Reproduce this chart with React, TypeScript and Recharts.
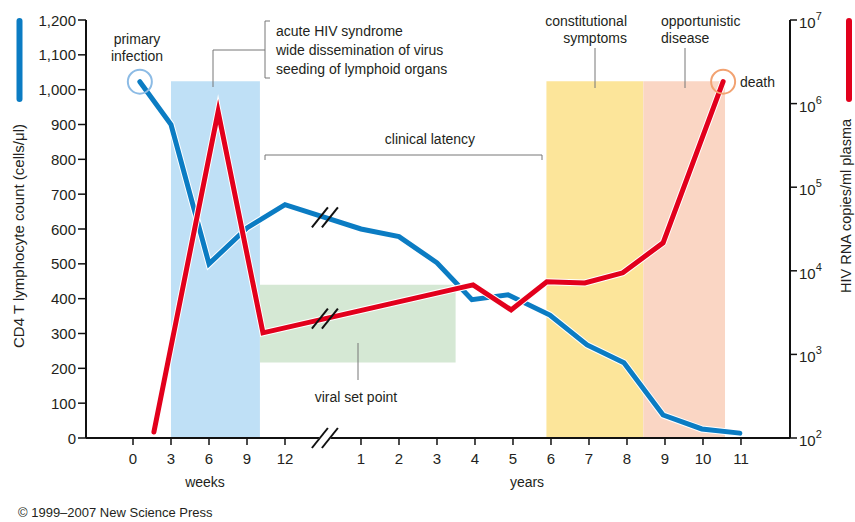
import React from 'react';
import {
  ComposedChart,
  Line,
  XAxis,
  YAxis,
  ReferenceArea,
  ReferenceDot,
} from 'recharts';

// x is a position on the drawn axis: 0..4 = 0,3,6,9,12 weeks, 5 = axis break, 6..16 = years 1..11
const tickPositions = [0, 1, 2, 3, 4, 6, 7, 8, 9, 10, 11, 12, 13, 14, 15, 16];
const tickLabels = ['0', '3', '6', '9', '12', '1', '2', '3', '4', '5', '6', '7', '8', '9', '10', '11'];
const breakPos = 5.05;

const cd4Pos = [0.18, 1, 2, 3, 4, 6, 7, 8, 8.92, 9.87, 10.97, 11.95, 12.92, 13.95, 14.97, 15.97];
const cd4Count = [1023, 900, 500, 603, 670, 600, 578, 503, 397, 411, 353, 267, 216, 66, 26, 14];

const rnaPos = [0.55, 2.24, 3.42, 8.95, 9.95, 10.89, 11.89, 12.89, 13.95, 15.53];
const rnaCopies = [118, 800000, 1810, 6800, 3410, 7380, 7150, 9460, 21600, 1830000];

const cd4Ticks = [0, 100, 200, 300, 400, 500, 600, 700, 800, 900, 1000, 1100, 1200];
const rnaTicks = [100, 1000, 10000, 100000, 1000000, 10000000];

const phaseStart = [1, 3.34, 10.88, 13.43];
const phaseEnd = [3.34, 8.49, 13.43, 15.58];
const phaseLow = [0, 217, 0, 0];
const phaseHigh = [1024, 440, 1024, 1024];
const phaseColors = ['#bfe0f6', '#d5e8d4', '#fce59a', '#fad6c4'];

const BLUE = '#0b7cc3';
const RED = '#e2001c';
const INK = '#231f20';
const FONT = '"Liberation Sans", Arial, sans-serif';

const cd4Data = cd4Pos.map((p, i) => ({ pos: p, count: cd4Count[i] }));
const rnaData = rnaPos.map((p, i) => ({ pos: p, copies: rnaCopies[i] }));

// where the series cross the axis break, for placing the // marks
const lerpAt = (xs: number[], ys: number[], x: number, log: boolean) => {
  for (let i = 0; i < xs.length - 1; i++) {
    if (x >= xs[i] && x <= xs[i + 1]) {
      const t = (x - xs[i]) / (xs[i + 1] - xs[i]);
      if (log) return Math.pow(10, Math.log10(ys[i]) + t * (Math.log10(ys[i + 1]) - Math.log10(ys[i])));
      return ys[i] + t * (ys[i + 1] - ys[i]);
    }
  }
  return ys[0];
};
const cd4AtBreak = lerpAt(cd4Pos, cd4Count, breakPos, false);
const rnaAtBreak = lerpAt(rnaPos, rnaCopies, breakPos, true);

const BreakMark = (props: any) => {
  const { cx, cy, gap } = props;
  return (
    <g>
      {gap && (
        <polygon
          points={`${cx - 11},${cy + 9} ${cx + 1},${cy + 9} ${cx + 11},${cy - 9} ${cx - 1},${cy - 9}`}
          fill="#fff"
        />
      )}
      <line x1={cx - 13} y1={cy + 10} x2={cx + 3} y2={cy - 10} stroke="#111" strokeWidth={2} />
      <line x1={cx - 3} y1={cy + 10} x2={cx + 13} y2={cy - 10} stroke="#111" strokeWidth={2} />
    </g>
  );
};

const XTick = (props: any) => {
  const { x, y, payload } = props;
  const idx = tickPositions.indexOf(payload.value);
  return (
    <text x={x} y={y} dy={17} textAnchor="middle" fill={INK} fontSize={15} fontFamily={FONT}>
      {tickLabels[idx]}
    </text>
  );
};

const LeftTick = (props: any) => {
  const { x, y, payload } = props;
  return (
    <text x={x} y={y} dy={5.5} textAnchor="end" fill={INK} fontSize={15} fontFamily={FONT}>
      {Number(payload.value).toLocaleString('en-US')}
    </text>
  );
};

const PowerTick = (props: any) => {
  const { x, y, payload } = props;
  const exp = Math.round(Math.log10(payload.value));
  return (
    <text x={x} y={y + 8} textAnchor="start" fill={INK} fontSize={15} fontFamily={FONT}>
      10
      <tspan dy={-8} fontSize={11}>{exp}</tspan>
    </text>
  );
};

const Annotations = () => {
  const t = { fill: INK, fontSize: 14, fontFamily: FONT };
  const guide = { stroke: '#777', strokeWidth: 1, fill: 'none' };
  return (
    <svg
      width={855}
      height={522}
      style={{ position: 'absolute', left: 0, top: 0, pointerEvents: 'none' }}
    >
      {/* series keys */}
      <rect x={16.5} y={18} width={6} height={84} rx={3} fill={BLUE} />
      <rect x={846} y={18} width={6} height={84} rx={3} fill={RED} />
      <text transform="translate(24,236) rotate(-90)" textAnchor="middle" {...t} fontSize={15}>
        CD4 T lymphocyte count (cells/μl)
      </text>
      <text transform="translate(851,206) rotate(-90)" textAnchor="middle" {...t} fontSize={14.5}>
        HIV RNA copies/ml plasma
      </text>

      <text x={137} y={44} textAnchor="middle" {...t}>primary</text>
      <text x={137} y={61} textAnchor="middle" {...t}>infection</text>

      <path d="M270 21 H265 V78 H270" {...guide} />
      <path d="M265 50 H213 V87" {...guide} />
      <text x={276} y={36} {...t}>acute HIV syndrome</text>
      <text x={276} y={55} {...t}>wide dissemination of virus</text>
      <text x={276} y={74} {...t}>seeding of lymphoid organs</text>

      <text x={430} y={144} textAnchor="middle" {...t}>clinical latency</text>
      <path d="M265 160 V155 H542 V160" {...guide} />

      <line x1={358} y1={343} x2={358} y2={380} {...guide} />
      <text x={356} y={402} textAnchor="middle" {...t}>viral set point</text>

      <text x={627} y={26} textAnchor="end" {...t}>constitutional</text>
      <text x={627} y={43} textAnchor="end" {...t}>symptoms</text>
      <line x1={595} y1={48} x2={595} y2={88} {...guide} />

      <text x={661} y={26} {...t}>opportunistic</text>
      <text x={661} y={43} {...t}>disease</text>
      <line x1={685} y1={48} x2={685} y2={88} {...guide} />

      <text x={740} y={87} {...t}>death</text>

      <text x={205} y={487} textAnchor="middle" {...t}>weeks</text>
      <text x={527} y={487} textAnchor="middle" {...t}>years</text>

      <text x={18} y={517} {...t} fontSize={13}>© 1999–2007 New Science Press</text>
    </svg>
  );
};

export default function App() {
  return (
    <div style={{ position: 'absolute', left: 0, top: 0, width: 855, height: 522, background: '#fff' }}>
      <ComposedChart
        width={855}
        height={522}
        margin={{ top: 20, right: 0, bottom: 54, left: 0 }}
        style={{ fontFamily: FONT }}
      >
        <XAxis
          dataKey="pos"
          type="number"
          domain={[-1.237, 17.29]}
          allowDataOverflow
          ticks={tickPositions}
          interval={0}
          height={30}
          tickSize={7}
          tickLine={{ stroke: '#111', strokeWidth: 1.5 }}
          axisLine={{ stroke: '#111', strokeWidth: 2 }}
          tick={<XTick />}
        />
        <YAxis
          yAxisId="cd4"
          orientation="left"
          type="number"
          domain={[0, 1200]}
          ticks={cd4Ticks}
          interval={0}
          width={86}
          tickSize={8}
          tickLine={{ stroke: '#111', strokeWidth: 1.5 }}
          axisLine={{ stroke: '#111', strokeWidth: 2 }}
          tick={<LeftTick />}
        />
        <YAxis
          yAxisId="rna"
          orientation="right"
          type="number"
          scale="log"
          domain={[100, 10000000]}
          allowDataOverflow
          ticks={rnaTicks}
          interval={0}
          width={65}
          tickSize={7}
          tickLine={{ stroke: '#111', strokeWidth: 1.5 }}
          axisLine={{ stroke: '#111', strokeWidth: 2 }}
          tick={<PowerTick />}
        />

        {phaseStart.map((s, i) => (
          <ReferenceArea
            key={i}
            yAxisId="cd4"
            x1={s}
            x2={phaseEnd[i]}
            y1={phaseLow[i]}
            y2={phaseHigh[i]}
            fill={phaseColors[i]}
            fillOpacity={1}
            stroke="none"
          />
        ))}

        <Line
          yAxisId="cd4"
          data={cd4Data}
          dataKey="count"
          stroke="#fff"
          strokeWidth={7}
          dot={false}
          activeDot={false}
          isAnimationActive={false}
          strokeLinecap="round"
        />
        <Line
          yAxisId="cd4"
          data={cd4Data}
          dataKey="count"
          stroke={BLUE}
          strokeWidth={5}
          dot={false}
          activeDot={false}
          isAnimationActive={false}
          strokeLinecap="round"
        />
        <Line
          yAxisId="rna"
          data={rnaData}
          dataKey="copies"
          stroke="#fff"
          strokeWidth={7}
          dot={false}
          activeDot={false}
          isAnimationActive={false}
          strokeLinecap="round"
          strokeMiterlimit={10}
        />
        <Line
          yAxisId="rna"
          data={rnaData}
          dataKey="copies"
          stroke={RED}
          strokeWidth={5}
          dot={false}
          activeDot={false}
          isAnimationActive={false}
          strokeLinecap="round"
          strokeMiterlimit={10}
        />

        <ReferenceDot
          yAxisId="cd4"
          x={cd4Pos[0]}
          y={cd4Count[0]}
          r={12}
          fill="none"
          stroke="#8cbbe5"
          strokeWidth={2}
        />
        <ReferenceDot
          yAxisId="rna"
          x={rnaPos[rnaPos.length - 1]}
          y={rnaCopies[rnaCopies.length - 1]}
          r={12}
          fill="none"
          stroke="#f2a271"
          strokeWidth={2}
        />

        <ReferenceDot yAxisId="cd4" x={breakPos} y={cd4AtBreak} r={1} shape={(p: any) => <BreakMark {...p} />} />
        <ReferenceDot yAxisId="rna" x={breakPos} y={rnaAtBreak} r={1} shape={(p: any) => <BreakMark {...p} />} />
        <ReferenceDot yAxisId="cd4" x={breakPos} y={0} r={1} shape={(p: any) => <BreakMark {...p} gap />} />
      </ComposedChart>
      <Annotations />
    </div>
  );
}
